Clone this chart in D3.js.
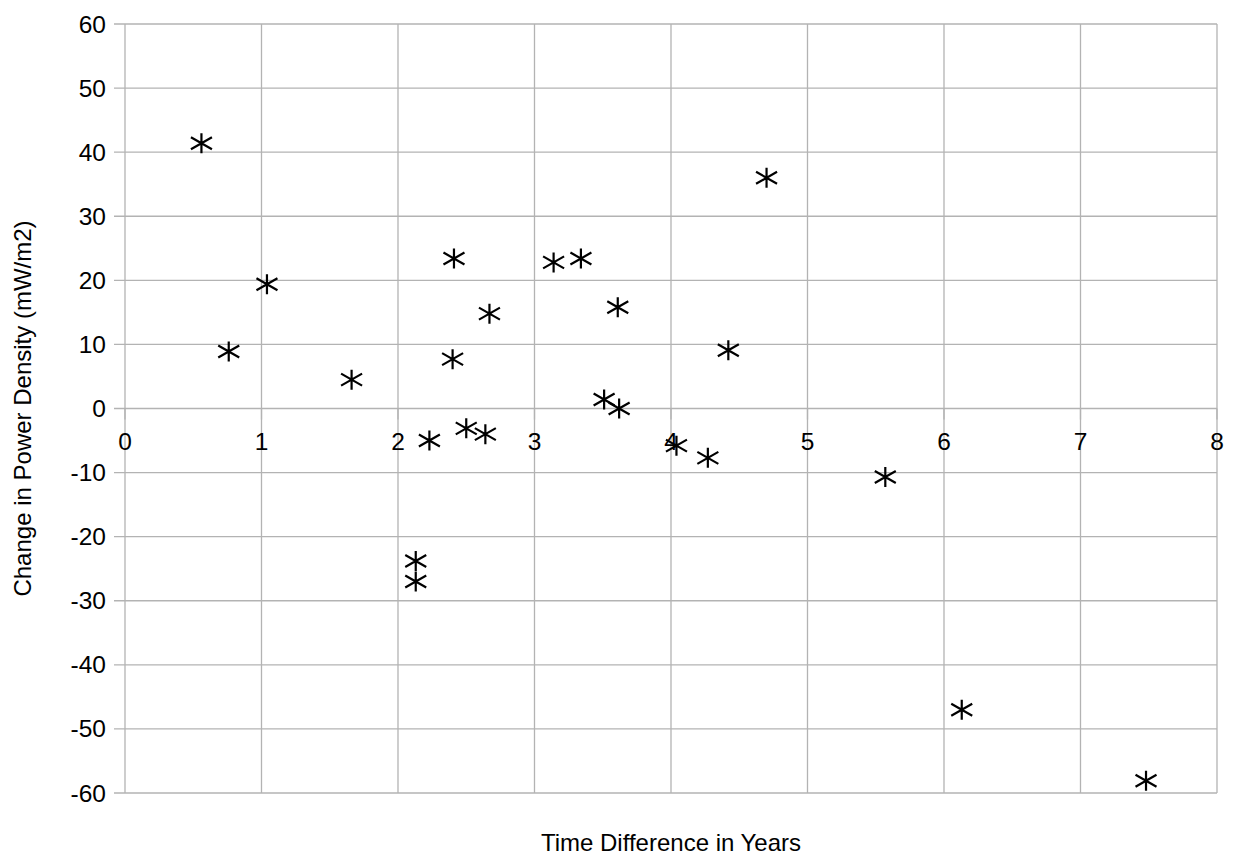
<!DOCTYPE html>
<html>
<head>
<meta charset="utf-8">
<script src="https://cdn.jsdelivr.net/npm/d3@7"></script>
<style>
  body { margin: 0; background: #fff; }
  text { font-family: "Liberation Sans", Arial, sans-serif; fill: #000; }
</style>
</head>
<body>
<svg width="1233" height="857"></svg>
<script>
// time difference (years) vs change in power density (mW/m2)
var years = [0.56, 0.76, 1.04, 1.66, 2.13, 2.13, 2.23, 2.40, 2.41, 2.50,
             2.64, 2.67, 3.14, 3.34, 3.51, 3.61, 3.62, 4.04, 4.27, 4.42,
             4.70, 5.57, 6.13, 7.48];
var change = [41.4, 8.9, 19.4, 4.5, -23.8, -27.0, -5.0, 7.7, 23.4, -3.1,
              -4.0, 14.8, 22.8, 23.4, 1.4, 15.8, 0.0, -5.8, -7.7, 9.1,
              36.0, -10.7, -47.0, -58.1];
var xTicks = [0, 1, 2, 3, 4, 5, 6, 7, 8];
var yTicks = [-60, -50, -40, -30, -20, -10, 0, 10, 20, 30, 40, 50, 60];

var svg = d3.select("svg"),
    margin = {left: 125, top: 24, right: 16, bottom: 64},
    width = +svg.attr("width") - margin.left - margin.right,
    height = +svg.attr("height") - margin.top - margin.bottom,
    g = svg.append("g").attr("transform", "translate(" + margin.left + "," + margin.top + ")");

var x = d3.scaleLinear().domain([0, 8]).range([0, width]);
var y = d3.scaleLinear().domain([-60, 60]).range([height, 0]);

var grid = "#b3b3b3";

// grid lines
g.selectAll(".vgrid")
    .data(xTicks)
    .enter().append("line")
    .attr("x1", function(d) { return x(d); })
    .attr("x2", function(d) { return x(d); })
    .attr("y1", 0).attr("y2", height)
    .style("stroke", grid).style("stroke-width", 1.3);

g.selectAll(".hgrid")
    .data(yTicks)
    .enter().append("line")
    .attr("x1", -11).attr("x2", width)
    .attr("y1", function(d) { return y(d); })
    .attr("y2", function(d) { return y(d); })
    .style("stroke", grid).style("stroke-width", 1.3);

// x ticks hang below the zero line
g.selectAll(".xtick")
    .data(xTicks)
    .enter().append("line")
    .attr("x1", function(d) { return x(d); })
    .attr("x2", function(d) { return x(d); })
    .attr("y1", y(0)).attr("y2", y(0) + 11)
    .style("stroke", grid).style("stroke-width", 1.3);

g.selectAll(".ylab")
    .data(yTicks)
    .enter().append("text")
    .attr("x", -19)
    .attr("y", function(d) { return y(d); })
    .attr("dy", "0.35em")
    .style("text-anchor", "end")
    .style("font-size", "24.5px")
    .text(function(d) { return d; });

g.selectAll(".xlab")
    .data(xTicks)
    .enter().append("text")
    .attr("x", function(d) { return x(d); })
    .attr("y", y(0) + 33)
    .attr("dy", "0.35em")
    .style("text-anchor", "middle")
    .style("font-size", "24.5px")
    .text(function(d) { return d; });

// asterisk marker
var star = {
  draw: function(ctx) {
    ctx.moveTo(0, -10); ctx.lineTo(0, 10);
    ctx.moveTo(-10.5, -6); ctx.lineTo(10.5, 6);
    ctx.moveTo(-10.5, 6); ctx.lineTo(10.5, -6);
  }
};

g.selectAll(".pt")
    .data(years)
    .enter().append("path")
    .attr("d", d3.symbol().type(star))
    .attr("transform", function(d, i) { return "translate(" + x(d) + "," + y(change[i]) + ")"; })
    .style("fill", "none")
    .style("stroke", "#000")
    .style("stroke-width", 2.2);

svg.append("text")
    .attr("x", margin.left + width / 2)
    .attr("y", 851)
    .style("text-anchor", "middle")
    .style("font-size", "24px")
    .text("Time Difference in Years");

svg.append("text")
    .attr("transform", "translate(31," + (margin.top + height / 2) + ") rotate(-90)")
    .style("text-anchor", "middle")
    .style("font-size", "24px")
    .text("Change in Power Density (mW/m2)");
</script>
</body>
</html>
